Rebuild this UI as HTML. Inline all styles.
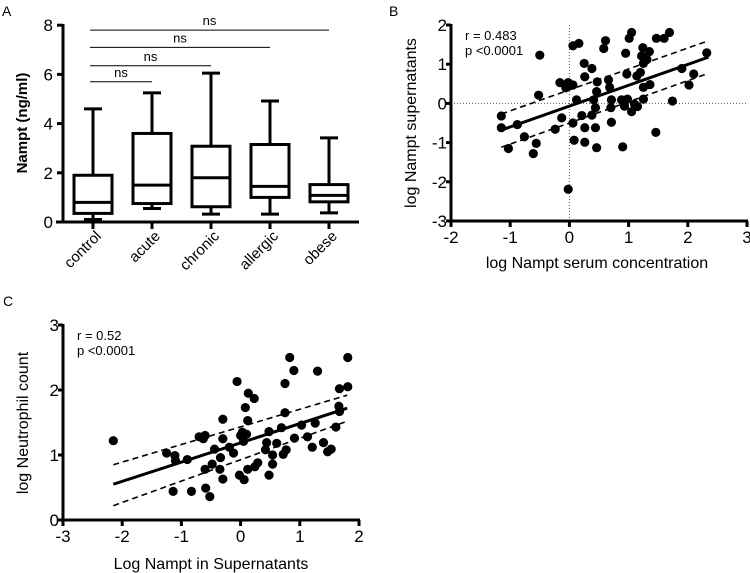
<!DOCTYPE html>
<html><head><meta charset="utf-8"><style>
html,body{margin:0;padding:0;background:#fff;}
svg{display:block;font-family:"Liberation Sans",Arial,sans-serif;}
</style></head><body>
<svg id="fig" width="750" height="573" viewBox="0 0 750 573" xmlns="http://www.w3.org/2000/svg"></svg>
<script>
// ---------- Panel A data ----------
const catsA = ["control","acute","chronic","allergic","obese"];
const minA = [0.1,0.55,0.32,0.32,0.37];
const q1A = [0.35,0.75,0.62,1.0,0.82];
const medA = [0.8,1.5,1.8,1.45,1.08];
const q3A = [1.9,3.6,3.08,3.15,1.52];
const maxA = [4.6,5.25,6.05,4.92,3.42];
const ticksA = [0,2,4,6,8];
const sigTo = [1,2,3,4];
const sigY = [5.7,6.35,7.1,7.8];
// ---------- Panel B data ----------
const bx = [-1.15,-1.15,-1.03,-0.88,-0.76,-0.61,-0.56,-0.52,-0.5,-0.24,-0.16,-0.13,-0.06,-0.02,-0.02,0.06,0.06,0.06,0.08,0.12,0.16,0.21,0.25,0.26,0.26,0.26,0.38,0.38,0.41,0.44,0.44,0.46,0.47,0.46,0.58,0.61,0.66,0.68,0.7,0.71,0.71,0.88,0.9,0.93,0.95,0.97,0.98,1.01,1.05,1.05,1.1,1.14,1.15,1.2,1.22,1.24,1.25,1.25,1.25,1.31,1.35,1.36,1.46,1.47,1.6,1.69,1.74,1.9,2.02,2.1,2.32];
const by = [-0.62,-0.32,-1.15,-0.54,-0.85,-1.28,-1.02,0.21,1.23,-0.66,0.53,-0.37,0.4,0.53,-2.19,1.47,0.47,-0.5,-0.94,0.09,1.53,-0.31,1.02,0.68,-0.62,-0.99,0.89,-0.3,0.09,-0.11,-0.62,-1.13,0.55,0.3,1.4,1.6,0.6,0.41,-0.11,0.09,-0.48,0.09,-1.11,-0.07,1.28,0.75,0.11,1.66,1.81,-0.21,-0.02,0.7,-0.08,0.79,1.21,1.42,0.41,0.11,1.02,1.12,1.32,0.48,-0.74,1.66,1.66,1.81,0.06,0.89,0.47,0.75,1.29];
const bFitX = [-1.15,2.35];
const bFit = [-0.68,1.18];
const bUpper = [-0.27,1.6];
const bLower = [-1.12,0.77];
const bXTicks = [-2,-1,0,1,2,3];
const bYTicks = [-3,-2,-1,0,1,2];
// ---------- Panel C data ----------
const cx = [-2.15,-1.25,-1.11,-1.1,-1.14,-0.9,-0.83,-0.7,-0.63,-0.6,-0.6,-0.59,-0.52,-0.48,-0.44,-0.35,-0.34,-0.3,-0.3,-0.3,-0.19,-0.12,-0.06,-0.02,0,0.03,0.05,0.06,0.08,0.1,0.12,0.12,0.13,0.23,0.24,0.29,0.42,0.44,0.48,0.48,0.54,0.54,0.61,0.69,0.72,0.75,0.75,0.77,0.83,0.9,0.91,1.03,1.13,1.21,1.26,1.3,1.4,1.47,1.53,1.61,1.66,1.67,1.67,1.81,1.81];
const cy = [1.22,1.03,0.99,0.91,0.44,0.93,0.44,1.28,1.25,1.3,0.78,0.49,0.36,0.86,1.09,0.78,0.96,1.25,1.55,0.63,1.12,1.03,2.13,0.69,1.3,1.35,1.21,0.62,1.73,1.32,1.53,0.78,1.95,1.87,0.82,0.88,1.08,1.19,1.36,0.69,1.0,0.86,1.18,1.42,1.01,1.65,2.1,1.08,2.5,2.3,1.26,1.46,1.28,1.12,1.49,2.29,1.19,1.05,1.09,1.43,1.75,1.67,2.02,2.5,2.05];
const cFitX = [-2.15,1.8];
const cFit = [0.55,1.72];
const cUpper = [0.85,1.92];
const cLower = [0.22,1.52];
const cXTicks = [-3,-2,-1,0,1,2];
const cYTicks = [0,1,2,3];

const NS="http://www.w3.org/2000/svg";
const svg=document.getElementById('fig');
function mk(tag,attrs,parent,txt){const e=document.createElementNS(NS,tag);for(const k in attrs)e.setAttribute(k,attrs[k]);if(txt!==undefined)e.textContent=txt;(parent||svg).appendChild(e);return e;}
function grp(name){const g=mk('g',{});return g;}

// ===== Panel A =====
const gA=grp('panel-a');
const ayS=v=>222-v*24.6;
const axS=i=>93+i*59;
let t=mk('text',{x:2,y:16,'font-size':14},gA,'A');

let l=mk('line',{x1:63,y1:24,x2:63,y2:223.5,stroke:'#000','stroke-width':3},gA);

l=mk('line',{x1:56,y1:222,x2:359,y2:222,stroke:'#000','stroke-width':3},gA);

ticksA.forEach(v=>{
  mk('line',{x1:57,y1:ayS(v),x2:63,y2:ayS(v),stroke:'#000','stroke-width':3},gA);
  const tt=mk('text',{x:53,y:ayS(v)+6,'font-size':17,'text-anchor':'end'},gA,String(v));
  
});
t=mk('text',{transform:'translate(27,123) rotate(-90)','font-size':15,'font-weight':'bold','text-anchor':'middle'},gA,'Nampt (ng/ml)');

catsA.forEach((c,i)=>{
  const x=axS(i);
  mk('line',{x1:x,y1:222,x2:x,y2:229,stroke:'#000','stroke-width':3},gA);
  const tt=mk('text',{transform:`translate(${x+9},${237}) rotate(-45)`,'font-size':15,'text-anchor':'end'},gA,c);
  
  const b=grp('box-'+c);gA.appendChild(b);
  mk('line',{x1:x,y1:ayS(maxA[i]),x2:x,y2:ayS(q3A[i]),stroke:'#000','stroke-width':3},b);
  mk('line',{x1:x,y1:ayS(q1A[i]),x2:x,y2:ayS(minA[i]),stroke:'#000','stroke-width':3},b);
  mk('line',{x1:x-9,y1:ayS(maxA[i]),x2:x+9,y2:ayS(maxA[i]),stroke:'#000','stroke-width':3},b);
  mk('line',{x1:x-9,y1:ayS(minA[i]),x2:x+9,y2:ayS(minA[i]),stroke:'#000','stroke-width':3},b);
  mk('rect',{x:x-19,y:ayS(q3A[i]),width:38,height:ayS(q1A[i])-ayS(q3A[i]),fill:'#fff',stroke:'#000','stroke-width':3},b);
  mk('line',{x1:x-19,y1:ayS(medA[i]),x2:x+19,y2:ayS(medA[i]),stroke:'#000','stroke-width':3},b);
});
sigTo.forEach((j,k)=>{
  const y=ayS(sigY[k]);
  const x1=90,x2=axS(j);
  const s=mk('line',{x1:x1,y1:y,x2:x2,y2:y,stroke:'#000','stroke-width':1},gA);
  
  const tt=mk('text',{x:(x1+x2)/2,y:y-5,'font-size':13,'text-anchor':'middle'},gA,'ns');
  
});

// ===== scatter helper =====
function scatter(name,o){
  const g=grp(name);
  const X=v=>o.x0+(v-o.xmin)*o.xu, Y=v=>o.y0-(v-o.ymin)*o.yu;
  let t=mk('text',{x:o.lx,y:o.ly,'font-size':14},g,o.letter);
  
  if(o.dotted){
    mk('line',{x1:X(0),y1:Y(o.yT[o.yT.length-1]),x2:X(0),y2:o.y0,stroke:'#555','stroke-width':1,'stroke-dasharray':'1,2'},g);
    mk('line',{x1:o.x0,y1:Y(0),x2:X(o.xT[o.xT.length-1]),y2:Y(0),stroke:'#555','stroke-width':1,'stroke-dasharray':'1,2'},g);
  }
  let a=mk('line',{x1:o.x0,y1:Y(o.yT[o.yT.length-1])-1,x2:o.x0,y2:o.y0+1.5,stroke:'#000','stroke-width':3},g);
  
  a=mk('line',{x1:o.x0-1.5,y1:o.y0,x2:X(o.xT[o.xT.length-1])+1,y2:o.y0,stroke:'#000','stroke-width':3},g);
  
  o.yT.forEach(v=>{mk('line',{x1:o.x0-5,y1:Y(v),x2:o.x0,y2:Y(v),stroke:'#000','stroke-width':3},g);
    const tt=mk('text',{x:o.x0-4,y:Y(v)+6,'font-size':17,'text-anchor':'end'},g,String(v));
    });
  o.xT.forEach(v=>{mk('line',{x1:X(v),y1:o.y0,x2:X(v),y2:o.y0+6,stroke:'#000','stroke-width':3},g);
    const tt=mk('text',{x:X(v),y:o.y0+22,'font-size':17,'text-anchor':'middle'},g,String(v));
    });
  t=mk('text',{transform:`translate(${o.ytx},${o.yty}) rotate(-90)`,'font-size':16,'text-anchor':'middle'},g,o.ytitle);
  
  t=mk('text',{x:o.xtx,y:o.xty,'font-size':16,'text-anchor':'middle'},g,o.xtitle);
  
  t=mk('text',{x:o.x0+14,y:Y(o.yT[o.yT.length-1])+15,'font-size':13},g,o.r);
  
  t=mk('text',{x:o.x0+14,y:Y(o.yT[o.yT.length-1])+30,'font-size':13},g,'p <0.0001');
  
  o.px.forEach((v,i)=>{const c=mk('circle',{cx:X(v),cy:Y(o.py[i]),r:4.6,fill:'#000'},g);
    });
  const fl=mk('line',{x1:X(o.fx[0]),y1:Y(o.fit[0]),x2:X(o.fx[1]),y2:Y(o.fit[1]),stroke:'#000','stroke-width':3},g);
  
  [o.up,o.lo].forEach((b,k)=>{const d=mk('line',{x1:X(o.fx[0]),y1:Y(b[0]),x2:X(o.fx[1]),y2:Y(b[1]),stroke:'#000','stroke-width':1.6,'stroke-dasharray':'6,4'},g);
    });
}
scatter('panel-b',{letter:'B',lx:389,ly:16,x0:451,y0:221,xmin:-2,ymin:-3,xu:59.2,yu:39.2,xT:bXTicks,yT:bYTicks,
  px:bx,py:by,fx:bFitX,fit:bFit,up:bUpper,lo:bLower,dotted:true,r:'r = 0.483',
  ytitle:'log Nampt supernatants',ytx:416,yty:123,xtitle:'log Nampt serum concentration',xtx:597,xty:268});
scatter('panel-c',{letter:'C',lx:3,ly:306,x0:63,y0:520,xmin:-3,ymin:0,xu:59.2,yu:65,xT:cXTicks,yT:cYTicks,
  px:cx,py:cy,fx:cFitX,fit:cFit,up:cUpper,lo:cLower,dotted:false,r:'r = 0.52',
  ytitle:'log Neutrophil count',ytx:28,yty:423,xtitle:'Log Nampt in Supernatants',xtx:211,xty:569});
</script>
</body></html>
